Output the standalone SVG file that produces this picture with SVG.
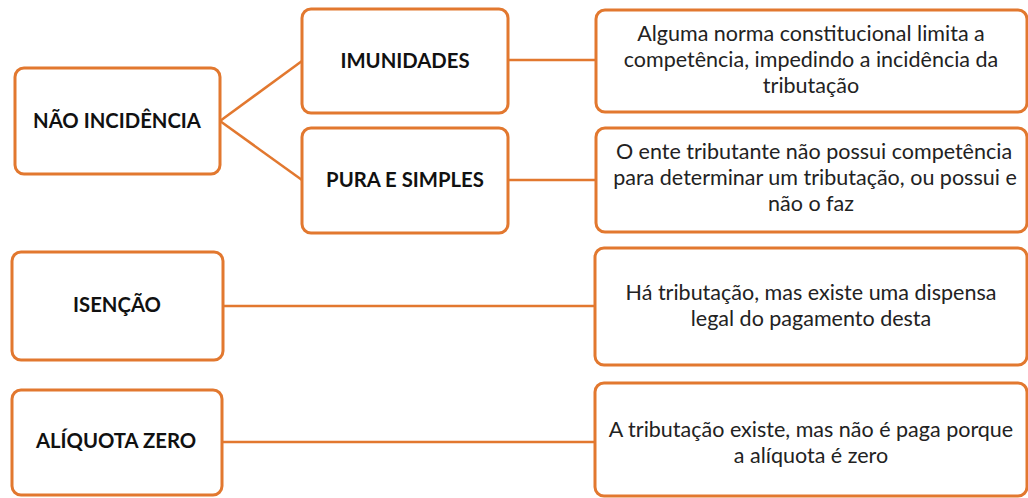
<svg xmlns="http://www.w3.org/2000/svg" width="1028" height="498" viewBox="0 0 1028 498">
<style>
.box{fill:#fff;stroke:#E2782F;stroke-width:3}
.ln{stroke:#E2782F;stroke-width:2.5;fill:none}
.b{font-family:Lato,"Open Sans","Liberation Sans",sans-serif;font-weight:bold;font-size:20.3px;fill:#111;text-anchor:middle}
.t{font-family:Lato,"Open Sans","Liberation Sans",sans-serif;font-size:21.5px;fill:#222;text-anchor:middle}
</style>
<rect width="1028" height="498" fill="#fff"/>
<g id="connectors">
<line class="ln" x1="220" y1="121" x2="302" y2="61"/>
<line class="ln" x1="220" y1="121" x2="302" y2="180"/>
<line class="ln" x1="508" y1="60" x2="596" y2="60"/>
<line class="ln" x1="508" y1="180" x2="596" y2="180"/>
<line class="ln" x1="223" y1="306" x2="595" y2="306"/>
<line class="ln" x1="222" y1="442" x2="595" y2="442"/>
</g>
<g id="nao-incidencia"><rect class="box" x="15" y="68" width="205" height="106" rx="9"/><text class="b" x="117" y="128">NÃO INCIDÊNCIA</text></g>
<g id="imunidades"><rect class="box" x="302" y="9" width="206" height="104" rx="9"/><text class="b" x="405" y="68">IMUNIDADES</text></g>
<g id="pura-simples"><rect class="box" x="302" y="128" width="206" height="105" rx="9"/><text class="b" x="405" y="187">PURA E SIMPLES</text></g>
<g id="isencao"><rect class="box" x="12" y="252" width="211" height="108" rx="9"/><text class="b" x="117" y="312">ISENÇÃO</text></g>
<g id="aliquota-zero"><rect class="box" x="12" y="390" width="210" height="105" rx="9"/><text class="b" x="116" y="448">ALÍQUOTA ZERO</text></g>
<g id="desc-imunidades"><rect class="box" x="596" y="10" width="431" height="102" rx="9"/>
<text class="t" x="811" y="41">Alguma norma constitucional limita a</text>
<text class="t" x="811" y="67">competência, impedindo a incidência da</text>
<text class="t" x="811" y="93">tributação</text></g>
<g id="desc-pura"><rect class="box" x="596" y="128" width="431" height="104" rx="9"/>
<text class="t" x="814" y="159">O ente tributante não possui competência</text>
<text class="t" x="815" y="185">para determinar um tributação, ou possui e</text>
<g transform="translate(811 211)"><text class="t" x="0" y="0">não o faz</text></g></g>
<g id="desc-isencao"><rect class="box" x="595" y="248" width="432" height="117" rx="9"/>
<text class="t" x="811" y="300">Há tributação, mas existe uma dispensa</text>
<text class="t" x="811" y="326">legal do pagamento desta</text></g>
<g id="desc-aliquota"><rect class="box" x="595" y="383" width="432" height="113" rx="9"/>
<text class="t" x="811" y="437">A tributação existe, mas não é paga porque</text>
<text class="t" x="811" y="463">a alíquota é zero</text></g>
</svg>
